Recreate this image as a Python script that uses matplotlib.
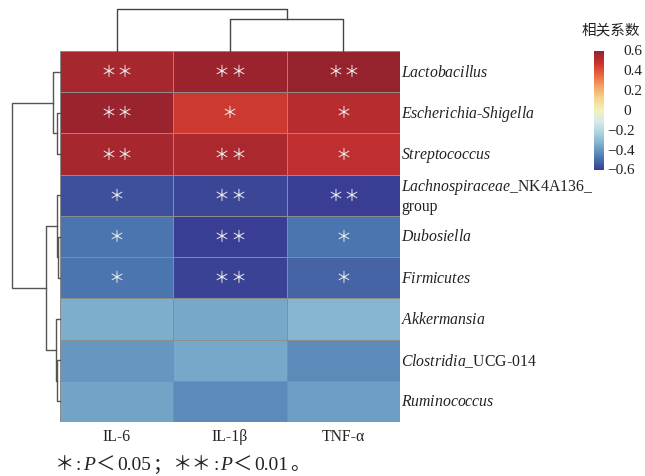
import matplotlib
matplotlib.use("Agg")
import matplotlib.pyplot as plt
import numpy as np
from matplotlib.colors import LinearSegmentedColormap, to_rgb
from matplotlib.offsetbox import TextArea, HPacker, AnnotationBbox
from matplotlib.transforms import blended_transform_factory

plt.rcParams['mathtext.fontset'] = 'custom'
plt.rcParams['mathtext.rm'] = 'Liberation Serif'
plt.rcParams['mathtext.it'] = 'Liberation Serif:italic'

# 数据（行顺序与图中一致，从上到下）
genera = [r"$\mathit{Lactobacillus}$",
          r"$\mathit{Escherichia}$-$\mathit{Shigella}$",
          r"$\mathit{Streptococcus}$",
          "$\\mathit{Lachnospiraceae}$_NK4A136_\ngroup",
          r"$\mathit{Dubosiella}$",
          r"$\mathit{Firmicutes}$",
          r"$\mathit{Akkermansia}$",
          r"$\mathit{Clostridia}$_UCG-014",
          r"$\mathit{Ruminococcus}$"]
cytokines = ["IL-6", "IL-1β", "TNF-α"]

r_il6 = [0.56, 0.59, 0.56, -0.56, -0.48, -0.48, -0.34, -0.40, -0.37]
r_il1b = [0.59, 0.46, 0.55, -0.58, -0.60, -0.59, -0.36, -0.36, -0.43]
r_tnf = [0.60, 0.52, 0.50, -0.60, -0.48, -0.52, -0.32, -0.43, -0.38]

# 显著性星号个数
sig_il6 = [2, 2, 2, 1, 1, 1, 0, 0, 0]
sig_il1b = [2, 1, 2, 2, 2, 2, 0, 0, 0]
sig_tnf = [2, 1, 1, 2, 1, 1, 0, 0, 0]

# 聚类树 (左, 右, 高度)
row_tree = ((0, (1, 2, 3), 7),
            ((3, (4, 5, 2), 3), (6, (7, 8, 3), 4), 14),
            48)
col_tree = (0, (1, 2, 32), 42)

data = np.array([r_il6, r_il1b, r_tnf]).T
sig = np.array([sig_il6, sig_il1b, sig_tnf]).T

# 颜色
blues = ['#313695', '#4575b4', '#74add1', '#abd9e9', '#e0f3f8', '#ffffbf']
blues = [tuple(0.9 * np.array(to_rgb(c)) + 0.05) for c in blues]
reds = ['#f5d690', '#f4a462', '#e8663f', '#c8322f', '#96222e']
cmap = LinearSegmentedColormap.from_list("rdylbu_m", blues + reds)

W, H = 645, 477
fig = plt.figure(figsize=(6.45, 4.77), dpi=100)


def fx(px):
    return px / W


def fy(py):
    return 1 - py / H


hm_l, hm_r, hm_t, hm_b = 60, 400, 52, 423
ax = fig.add_axes([fx(hm_l), fy(hm_b), fx(hm_r - hm_l), (hm_b - hm_t) / H])
mesh = ax.pcolormesh(np.arange(4), np.arange(10), data, cmap=cmap,
                     vmin=-0.6, vmax=0.6, edgecolors='#8c8c8c', linewidth=0.7)
ax.set_xlim(0, 3)
ax.set_ylim(9, 0)
ax.axis('off')

for i in range(9):
    for j in range(3):
        n = sig[i, j]
        offs = [0] if n == 1 else ([-0.072, 0.072] if n == 2 else [])
        for o in offs:
            ax.text(j + 0.5 + o, i + 0.5, "＊", ha='center', va='center',
                    fontsize=11.5, color='#ececec', family='Noto Sans CJK SC')
    ax.text(3.009, i + 0.5, genera[i], ha='left', va='center',
            fontsize=11.3, family='Liberation Serif', color='#222222',
            linespacing=1.15)
for j in range(3):
    ax.text(j + 0.5, 9.35, cytokines[j], ha='center', va='center',
            fontsize=11.3, family='Liberation Serif', color='#222222')


def draw_tree(a, node, orient):
    if isinstance(node, int):
        return node + 0.5, 0
    left, right, h = node
    p1, h1 = draw_tree(a, left, orient)
    p2, h2 = draw_tree(a, right, orient)
    hs = [h1, h, h, h2]
    ps = [p1, p1, p2, p2]
    if orient == 'left':
        a.plot(hs, ps, color='#555555', lw=1.0, clip_on=False)
    else:
        a.plot(ps, hs, color='#444444', lw=1.0, clip_on=False)
    return (p1 + p2) / 2, h


axr = fig.add_axes([fx(12), fy(hm_b), fx(48), (hm_b - hm_t) / H])
draw_tree(axr, row_tree, 'left')
axr.set_xlim(48, 0)
axr.set_ylim(9, 0)
axr.axis('off')

axc = fig.add_axes([fx(hm_l), fy(hm_t), fx(hm_r - hm_l), 42 / H])
draw_tree(axc, col_tree, 'top')
axc.set_xlim(0, 3)
axc.set_ylim(0, 42)
axc.axis('off')

# 色条
cax = fig.add_axes([fx(594), fy(171), fx(10), (171 - 52) / H])
cb = fig.colorbar(mesh, cax=cax)
cb.outline.set_visible(False)
cax.set_yticks([])
cax.set_ylim(-0.6, 0.6)
tr = blended_transform_factory(cax.transAxes, cax.transData)
for v in [0.6, 0.4, 0.2, 0, -0.2, -0.4, -0.6]:
    lab = "0" if v == 0 else f"{abs(v):.1f}"
    if v < 0:
        cax.text(1.35, v, "−" + lab, transform=tr, ha='left', va='center',
                 fontsize=11, family='Liberation Serif', color='#222222')
    else:
        cax.text(2.9, v, lab, transform=tr, ha='left', va='center',
                 fontsize=11, family='Liberation Serif', color='#222222')
fig.text(fx(611), fy(30), "相关系数", ha='center', va='center', fontsize=10.5,
         family='Noto Sans CJK SC', color='#222222')

# 注释
fs = 14
cjk = dict(fontsize=fs, family='Noto Sans CJK SC', color='#222222')
ser = dict(fontsize=fs, family='Liberation Serif', color='#222222')
seri = dict(fontsize=fs, family='Liberation Serif', style='italic', color='#222222')
pieces = [("＊", cjk), (":", ser), ("P", seri), ("＜", cjk), ("0.05", ser),
          ("；", cjk), ("＊＊", cjk), (":", ser), ("P", seri), ("＜", cjk),
          ("0.01", ser), ("。", cjk)]
pack = HPacker(children=[TextArea(s, textprops=p) for s, p in pieces],
               align='baseline', pad=0, sep=1)
ab = AnnotationBbox(pack, (fx(55), fy(465)), xycoords='figure fraction',
                    box_alignment=(0, 0.5), frameon=False, pad=0,
                    annotation_clip=False)
fig.add_artist(ab)

fig.savefig("out.png", dpi=100)
